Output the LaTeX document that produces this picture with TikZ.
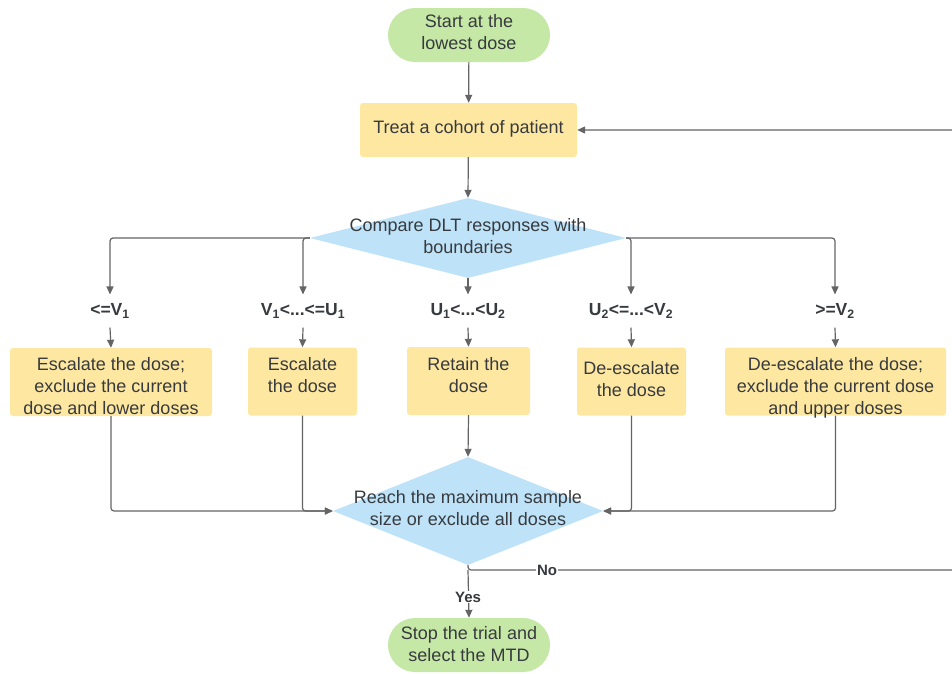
\documentclass[tikz,border=0pt]{standalone}
\usepackage{fontspec}
\setmainfont{Liberation Sans}
\usetikzlibrary{shapes.geometric,arrows.meta,positioning}
\definecolor{gfill}{RGB}{198,232,166}
\definecolor{yfill}{RGB}{254,232,161}
\definecolor{bfill}{RGB}{190,227,248}
\definecolor{txtc}{RGB}{55,58,62}
\definecolor{linec}{RGB}{100,100,100}
\tikzset{
  txt/.style={text=txtc,font=\fontsize{18}{22}\selectfont,align=center,inner sep=0pt},
  pill/.style={fill=gfill,rounded corners=27pt,minimum width=162pt,minimum height=54pt,inner sep=0pt},
  ybox/.style={fill=yfill,rounded corners=3pt,inner sep=0pt},
  dia/.style={diamond,fill=bfill,inner sep=0pt},
  lab/.style={text=txtc,font=\bfseries\fontsize{17.5}{20}\selectfont,inner xsep=0pt,inner ysep=9pt},
  yn/.style={text=txtc,font=\bfseries\fontsize{15}{17}\selectfont,fill=white,inner sep=1pt},
  conn/.style={draw=linec,line width=1.2pt,rounded corners=3pt},
  arr/.style={conn,-{Triangle[length=8pt,width=7pt]}},
}
\begin{document}
\begin{tikzpicture}[x=1pt,y=-1pt]
\useasboundingbox (0,0) rectangle (952,673);
\fill[white] (0,0) rectangle (952,673);
% nodes
\node[pill] (start) at (469,35) {};
\node[txt] (startt) at (469,32) {Start at the\\lowest dose};
\node[ybox,minimum width=217pt,minimum height=54pt] (treat) at (468.5,130) {};
\node[txt] (treatt) at (468.5,129) {Treat a cohort of patient};
\node[dia,minimum width=316pt,minimum height=80pt] (cmp) at (468,238) {};
\node[txt] (cmpt) at (468,236) {Compare DLT responses with\\boundaries};
% labels
\node[lab] (l1) at (110,311) {<=V\textsubscript{1}};
\node[lab] (l2) at (303,311) {V\textsubscript{1}<...<=U\textsubscript{1}};
\node[lab] (l3) at (468,311) {U\textsubscript{1}<...<U\textsubscript{2}};
\node[lab] (l4) at (631,311) {U\textsubscript{2}<=...<V\textsubscript{2}};
\node[lab] (l5) at (835,311) {>=V\textsubscript{2}};
% boxes
\node[ybox,minimum width=202pt,minimum height=68pt] (b1) at (111,382) {};
\node[txt] (b1t) at (111,386) {Escalate the dose;\\exclude the current\\dose and lower doses};
\node[ybox,minimum width=109pt,minimum height=68pt] (b2) at (302.5,381.5) {};
\node[txt] (b2t) at (302.5,375) {Escalate\\the dose};
\node[ybox,minimum width=123pt,minimum height=68pt] (b3) at (468.5,381) {};
\node[txt] (b3t) at (468.5,375) {Retain the\\dose};
\node[ybox,minimum width=109pt,minimum height=68pt] (b4) at (631.5,381.5) {};
\node[txt] (b4t) at (631.5,379) {De-escalate\\the dose};
\node[ybox,minimum width=221pt,minimum height=68pt] (b5) at (835.5,381.5) {};
\node[txt] (b5t) at (835.5,388) {De-escalate the dose;\\exclude the current dose\\and upper doses};
% reach
\node[dia,minimum width=270pt,minimum height=108pt] (rch) at (468,511) {};
\node[txt] (rcht) at (468,508) {Reach the maximum sample\\size or exclude all doses};
\node[pill] (stop) at (469,645) {};
\node[txt] (stopt) at (469,644) {Stop the trial and\\select the MTD};
% coordinates
\coordinate (j) at (468,570);
\coordinate (e1) at (956,570);
\coordinate (e2) at (956,130);
% connectors
\draw[arr] (start) -- (treat);
\draw[arr] (treat) -- (cmp.north);
\draw[arr] (cmp.west) -| (l1.north);
\draw[arr] (cmp.west) -| (l2.north);
\draw[arr] (cmp.south) -- (l3.north);
\draw[arr] (cmp.east) -| (l4.north);
\draw[arr] (cmp.east) -| (l5.north);
\foreach \i in {1,...,5}{\draw[arr] (l\i.south) -- (b\i.north);}
\draw[arr] (b1.south) |- (rch.west);
\draw[arr] (b2.south) |- (rch.west);
\draw[arr] (b3.south) -- (rch.north);
\draw[arr] (b4.south) |- (rch.east);
\draw[arr] (b5.south) |- (rch.east);
\draw[arr] (rch.south) -- (j) -- (e1) -- (e2) -- (treat.east |- e2);
\draw[arr] (j) -- (stop.north);
\node[yn] (no) at (547,570) {No};
\node[yn] (yes) at (468,597) {Yes};
\end{tikzpicture}
\end{document}
